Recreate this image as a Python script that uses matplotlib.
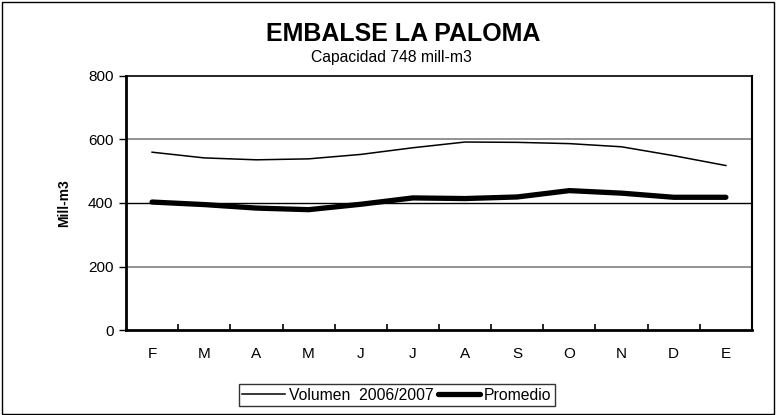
import matplotlib
matplotlib.use("Agg")
import matplotlib.pyplot as plt
from matplotlib.patches import Rectangle
import numpy as np

plt.rcParams['font.family'] = ['Liberation Sans', 'DejaVu Sans']

meses = ['F', 'M', 'A', 'M', 'J', 'J', 'A', 'S', 'O', 'N', 'D', 'E']
volumen = [560, 542, 536, 539, 553, 574, 592, 591, 587, 577, 549, 518]
promedio = [403, 395, 384, 379, 396, 416, 414, 419, 439, 431, 418, 418]
y_ticks = [0, 200, 400, 600, 800]

fig = plt.figure(figsize=(7.76, 4.15), dpi=100)
# outer chart border
fig.patches.append(Rectangle((0.003, 0.003), 0.994, 0.991, transform=fig.transFigure,
                             fill=False, edgecolor='black', linewidth=1.0))

ax = fig.add_axes([0.1624, 0.2048, 0.8066, 0.6121])
x = np.arange(len(meses))

# horizontal gridlines
for v in [200, 600]:
    ax.axhline(v, color='#808080', linewidth=1.2, zorder=1)
ax.axhline(400, color='black', linewidth=1.0, zorder=1)

ax.plot(x, volumen, color='black', linewidth=1.1, label='Volumen  2006/2007', zorder=3)
ax.plot(x, promedio, color='black', linewidth=3.8, solid_capstyle='round',
        label='Promedio', zorder=3)

ax.set_xlim(-0.5, len(meses) - 0.5)
ax.set_ylim(0, 800)
ax.set_yticks(y_ticks)
ax.set_xticks(x)
ax.set_xticklabels(meses, fontsize=11)
ax.set_xticks(np.arange(0.5, len(meses) - 1, 1), minor=True)
ax.tick_params(axis='x', which='major', length=0, pad=12)
ax.tick_params(axis='x', which='minor', direction='in', length=4, width=1.2)
ax.tick_params(axis='y', direction='out', length=5, width=1, labelsize=11, pad=4)

for side in ['left', 'bottom']:
    ax.spines[side].set_linewidth(2.0)
ax.spines['right'].set_linewidth(1.5)
ax.spines['top'].set_linewidth(1.2)

ax.set_ylabel('Mill-m3', fontsize=10, fontweight='bold', labelpad=12)

fig.text(0.519, 0.917, 'EMBALSE LA PALOMA', ha='center', va='center',
         fontsize=18, fontweight='bold')
fig.text(0.504, 0.851, 'Capacidad 748 mill-m3', ha='center', va='baseline', fontsize=11.3)

leg = fig.legend(loc='center', bbox_to_anchor=(0.5116, 0.048), ncol=2, fontsize=11.3,
                 frameon=True, fancybox=False, edgecolor='black', handlelength=2.7,
                 handletextpad=0.25, columnspacing=0.3, borderpad=0.2, borderaxespad=0)
leg.get_frame().set_linewidth(1.0)

fig.savefig('out.png', dpi=100)
